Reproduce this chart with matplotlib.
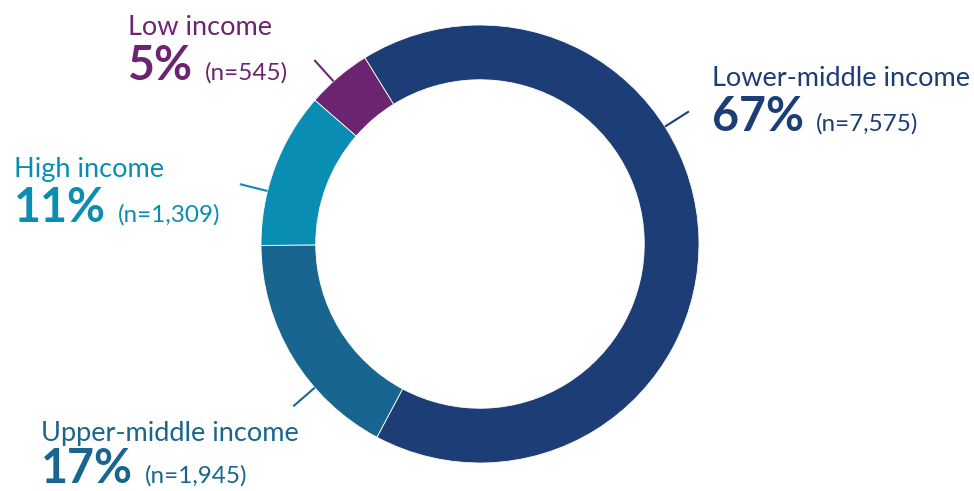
import matplotlib
matplotlib.use("Agg")
import matplotlib.pyplot as plt
import numpy as np

# data, counterclockwise from the top-left boundary
groups = ["Low income", "High income", "Upper-middle income", "Lower-middle income"]
counts = [545, 1309, 1945, 7575]
pcts = ["5%", "11%", "17%", "67%"]
colors = ["#6d2470", "#0a8db2", "#18668f", "#1d3d77"]

# label layout (pixels from top-left) and leader line angles
label_pos = [(128, 35, 80), (14, 177, 222), (41, 441, 483), (712, 86, 131)]
leader_ang = [132, 166, 221, 32.4]

W, H = 974, 491
cx, cy, R = 480, 244, 219

plt.rcParams["font.family"] = ["Lato", "DejaVu Sans"]

fig = plt.figure(figsize=(W / 100, H / 100), dpi=100)
ax = fig.add_axes([0, 0, 1, 1])

ax.pie(counts, colors=colors, startangle=121.7, counterclock=True,
       radius=1.0, wedgeprops=dict(width=0.25, edgecolor="white", linewidth=0.6))
ax.set_aspect("auto")
ax.set_xlim(-cx / R, (W - cx) / R)
ax.set_ylim(-(H - cy) / R, cy / R)
ax.axis("off")

for ang, col in zip(leader_ang, colors):
    a = np.deg2rad(ang)
    ax.plot([1.0 * np.cos(a), 1.13 * np.cos(a)], [1.0 * np.sin(a), 1.13 * np.sin(a)],
            color=col, lw=1.5, solid_capstyle="butt")

pct_texts = []
for name, pct, col, (x, y1, y2) in zip(groups, pcts, colors, label_pos):
    fig.text(x / W, 1 - y1 / H, name, color=col, fontsize=19.5, va="baseline", ha="left")
    t = fig.text(x / W, 1 - y2 / H, pct, color=col, fontsize=33.5, fontweight="bold",
                 va="baseline", ha="left")
    pct_texts.append(t)

# put the (n=...) after each percentage, on the same baseline
fig.canvas.draw()
for t, n, col, (x, y1, y2) in zip(pct_texts, counts, colors, label_pos):
    bb = t.get_window_extent()
    fig.text((bb.x1 + 12) / W, 1 - y2 / H, f"(n={n:,})", color=col, fontsize=17.5,
             va="baseline", ha="left")

fig.savefig("out.png", dpi=100, facecolor="white")
